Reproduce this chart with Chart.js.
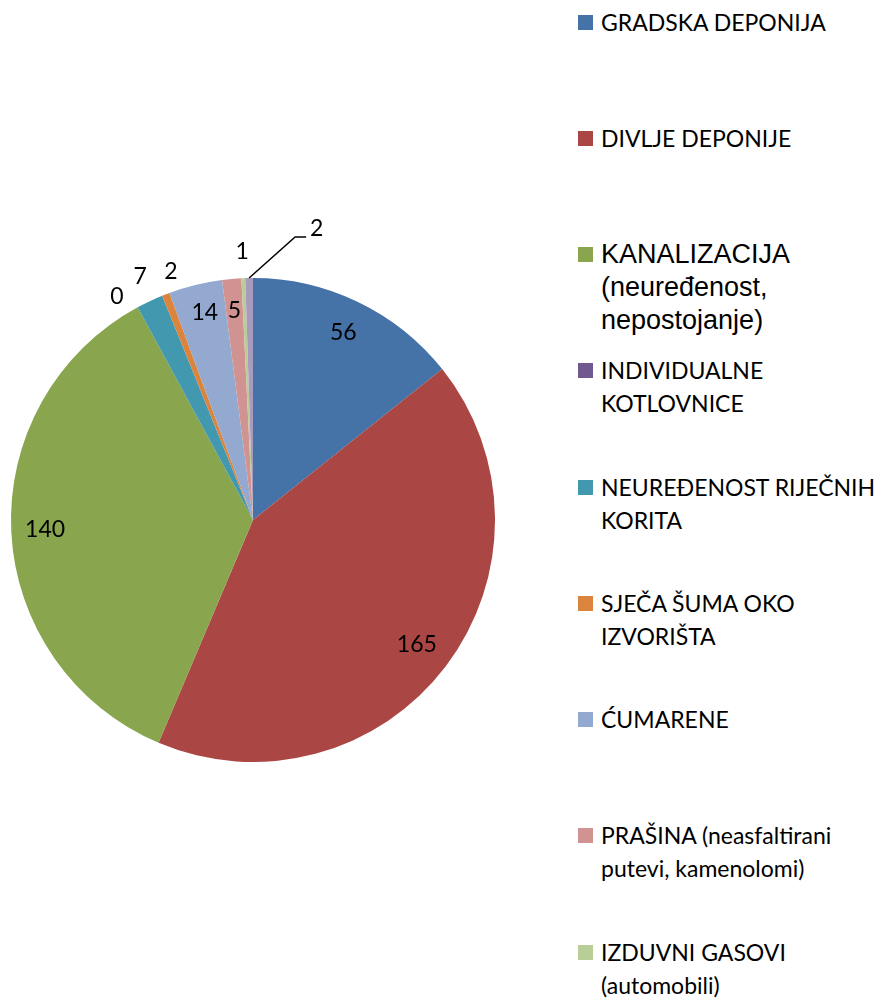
<!DOCTYPE html>
<html>
<head>
<meta charset="utf-8">
<script src="https://cdn.jsdelivr.net/npm/chart.js@4.4.1/dist/chart.umd.min.js"></script>
<style>
    html, body { margin: 0; padding: 0; background: #fff; overflow: hidden; }
    #wrap { position: relative; width: 882px; height: 1003px; overflow: hidden; }
    #chartBox { position: absolute; left: 0; top: 0; width: 506px; height: 1003px; }
    #legend { position: absolute; left: 578px; top: 0; width: 304px; height: 1003px; }
    .item { position: absolute; left: 0; white-space: nowrap; font-family: Lato, sans-serif; font-size: 23px; line-height: 33px; color: #000; }
    .item.arial { font-family: "Liberation Sans", Arial, sans-serif; font-size: 27px; }
    .box { position: absolute; left: 0; width: 15px; height: 15px; }
    .txt { position: absolute; left: 23px; top: 0; }
</style>
</head>
<body>
<div id="wrap">
    <div id="chartBox"><canvas id="pieChart"></canvas></div>
    <div id="legend"></div>
</div>
<script>
const categories = [
    ['GRADSKA DEPONIJA'],
    ['DIVLJE DEPONIJE'],
    ['KANALIZACIJA', '(neuređenost,', 'nepostojanje)'],
    ['INDIVIDUALNE', 'KOTLOVNICE'],
    ['NEUREĐENOST RIJEČNIH', 'KORITA'],
    ['SJEČA ŠUMA OKO', 'IZVORIŠTA'],
    ['ĆUMARENE'],
    ['PRAŠINA (neasfaltirani', 'putevi, kamenolomi)'],
    ['IZDUVNI GASOVI', '(automobili)'],
    ['OSTALO'],
];
const values = [56, 165, 140, 0, 7, 2, 14, 5, 1, 2];
const colors = ['#4572a7', '#aa4643', '#89a54e', '#71588f', '#4198af',
                '#db843d', '#93a9cf', '#d19392', '#b9cd96', '#a99bbd'];

// where each value label sits: distance in radii (null = leader line) and a small angle nudge in degrees
const labelRadius = [0.86, 0.85, 0.86, 1.08, 1.11, 1.08, 0.88, 0.87, 1.11, null];
const labelNudge  = [0, 0, 0, -2.9, 0.4, 2.8, 0.7, 0, 0, 0];

const valueLabels = {
    id: 'valueLabels',
    afterDatasetsDraw(chart) {
        const ctx = chart.ctx;
        const meta = chart.getDatasetMeta(0);
        ctx.save();
        ctx.font = '23px Lato, sans-serif';
        ctx.fillStyle = '#000';
        ctx.textBaseline = 'middle';
        meta.data.forEach((arc, i) => {
            const p = arc.getProps(['x', 'y', 'startAngle', 'endAngle', 'outerRadius'], true);
            const mid = (p.startAngle + p.endAngle) / 2 + labelNudge[i] * Math.PI / 180;
            const text = String(chart.data.datasets[0].data[i]);
            if (labelRadius[i] === null) {
                // leader line for the thin slice
                const sx = p.x + Math.cos(mid) * p.outerRadius;
                const sy = p.y + Math.sin(mid) * p.outerRadius;
                ctx.strokeStyle = '#000';
                ctx.lineWidth = 1.5;
                ctx.beginPath();
                ctx.moveTo(sx, sy);
                ctx.lineTo(sx + 46, sy - 41);
                ctx.lineTo(sx + 57, sy - 41);
                ctx.stroke();
                ctx.textAlign = 'left';
                ctx.fillText(text, sx + 61, sy - 49);
                return;
            }
            const r = p.outerRadius * labelRadius[i];
            ctx.textAlign = 'center';
            ctx.fillText(text, p.x + Math.cos(mid) * r, p.y + Math.sin(mid) * r);
        });
        ctx.restore();
    },
};

const pc = document.getElementById('pieChart');
const pie = new Chart(pc, {
    type: 'pie',
    data: {
        labels: categories,
        datasets: [{
            data: values,
            backgroundColor: colors,
            borderWidth: 0,
        }],
    },
    options: {
        responsive: true,
        maintainAspectRatio: false,
        animation: false,
        layout: { padding: { left: 11, right: 11, top: 37, bottom: 0 } },
        plugins: {
            legend: { display: false },
            tooltip: { enabled: false },
        },
    },
    plugins: [valueLabels],
});

// legend on the right, built from the chart's own labels and colours
const legendEl = document.getElementById('legend');
pie.data.labels.forEach((lines, i) => {
    const cy = 22 + i * 116.25;
    const item = document.createElement('div');
    item.className = 'item' + (i === 2 ? ' arial' : '');
    item.style.top = (cy - 16.5) + 'px';
    const box = document.createElement('div');
    box.className = 'box';
    box.style.top = '9px';
    box.style.background = pie.data.datasets[0].backgroundColor[i];
    const txt = document.createElement('div');
    txt.className = 'txt';
    txt.innerHTML = lines.join('<br>');
    item.appendChild(box);
    item.appendChild(txt);
    legendEl.appendChild(item);
});
</script>
</body>
</html>
